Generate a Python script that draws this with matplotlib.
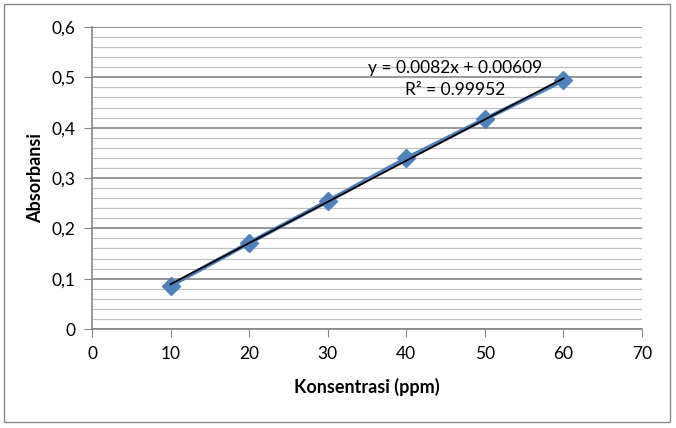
import numpy as np
import matplotlib.pyplot as plt
from matplotlib.patches import Rectangle

# data
konsentrasi = [10, 20, 30, 40, 50, 60]
absorbansi = [0.086, 0.171, 0.254, 0.339, 0.417, 0.494]
eq_text = "y = 0.0082x + 0.00609"
r2_text = "R² = 0.99952"

plt.rcParams['font.family'] = ['Lato', 'DejaVu Sans']

fig = plt.figure(figsize=(6.76, 4.28), dpi=100)
ax = fig.add_axes([92 / 676, 1 - 329 / 428, 550 / 676, 302 / 428])

# outer chart border
fig.patches.append(Rectangle((4 / 676, 6 / 428), 666 / 676, 418 / 428,
                             transform=fig.transFigure, fill=False,
                             edgecolor='#888888', linewidth=1.0))

blue = '#4F81BD'
ax.plot(konsentrasi, absorbansi, color=blue, linewidth=3, marker='D',
        markersize=9, markerfacecolor=blue, markeredgecolor=blue, zorder=3)

# linear trendline
m, c = np.polyfit(konsentrasi, absorbansi, 1)
xt = np.array([konsentrasi[0], konsentrasi[-1]])
ax.plot(xt, m * xt + c, color='black', linewidth=1.3, zorder=4)

ax.text(46.2, 0.519, eq_text, ha='center', va='center', fontsize=12.5)
ax.text(46.2, 0.475, r2_text, ha='center', va='center', fontsize=12.5)

ax.set_xlim(0, 70)
ax.set_ylim(0, 0.6)
ax.set_xticks(range(0, 71, 10))
ax.set_yticks(np.arange(0, 0.61, 0.1))
ax.set_yticklabels(['0', '0,1', '0,2', '0,3', '0,4', '0,5', '0,6'])
ax.set_yticks(np.arange(0, 0.6, 0.02), minor=True)
ax.tick_params(axis='y', which='minor', length=0)
ax.tick_params(axis='both', which='major', length=6, color='#868686',
               labelsize=12.5, pad=6, direction='out')

ax.grid(True, axis='y', which='major', color='#868686', linewidth=1.2)
ax.grid(True, axis='y', which='minor', color='#c0c0c0', linewidth=0.9)
ax.set_axisbelow(True)

for s in ['top', 'right']:
    ax.spines[s].set_visible(False)
for s in ['left', 'bottom']:
    ax.spines[s].set_color('#868686')
    ax.spines[s].set_linewidth(1.2)

ax.set_xlabel('Konsentrasi (ppm)', fontsize=13, fontweight='bold', labelpad=12)
ax.set_ylabel('Absorbansi', fontsize=13, fontweight='bold', labelpad=5)

fig.savefig('out.png', dpi=100)
